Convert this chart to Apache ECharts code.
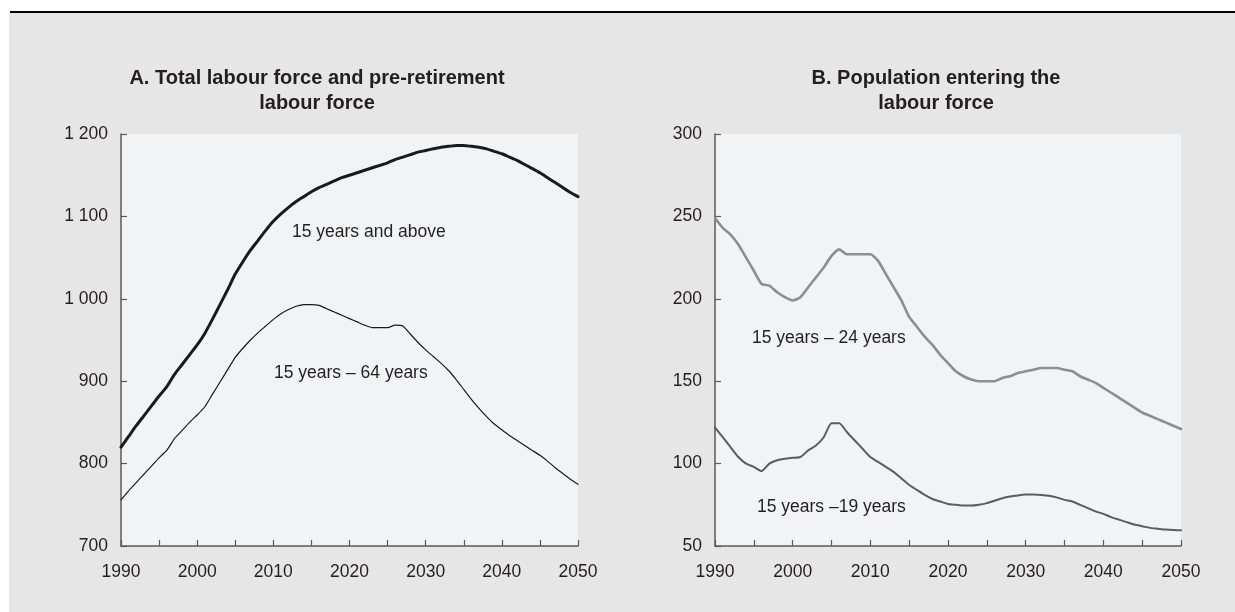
<!DOCTYPE html>
<html>
<head>
<meta charset="utf-8">
<script src="https://cdn.jsdelivr.net/npm/echarts@6/dist/echarts.min.js"></script>
<style>
  html, body { margin: 0; padding: 0; background: #ffffff; }
  #chart { width: 1235px; height: 612px; }
</style>
</head>
<body>
<div id="chart"></div>
<script>
// Years shared by both panels
const years = [
  1990, 1991, 1992, 1993, 1994, 1995, 1996, 1997, 1998, 1999,
  2000, 2001, 2002, 2003, 2004, 2005, 2006, 2007, 2008, 2009,
  2010, 2011, 2012, 2013, 2014, 2015, 2016, 2017, 2018, 2019,
  2020, 2021, 2022, 2023, 2024, 2025, 2026, 2027, 2028, 2029,
  2030, 2031, 2032, 2033, 2034, 2035, 2036, 2037, 2038, 2039,
  2040, 2041, 2042, 2043, 2044, 2045, 2046, 2047, 2048, 2049,
  2050
];

// Panel A: labour force, millions
const labour15plus = [
  820, 833, 846, 858, 870, 882, 893, 908, 920, 932,
  944, 958, 975, 993, 1011, 1030, 1045, 1059, 1071, 1083,
  1094, 1103, 1111, 1118, 1124, 1130, 1135, 1139, 1143, 1147,
  1150, 1153, 1156, 1159, 1162, 1165, 1169, 1172, 1175, 1178,
  1180, 1182, 1184, 1185, 1186, 1186, 1185, 1184, 1182, 1179,
  1176, 1172, 1168, 1163, 1158, 1153, 1147, 1141, 1135, 1129,
  1124
];
const labour15to64 = [
  756, 767, 777, 787, 797, 807, 816, 830, 840, 850,
  859, 869, 884, 899, 914, 929, 940, 950, 959, 967,
  975, 982, 987, 991, 993, 993, 992, 988, 984, 980,
  976, 972, 968, 965, 965, 965, 968, 967, 957, 947,
  938, 930, 922, 913, 902, 890, 878, 867, 857, 848,
  841, 834, 828, 822, 816, 810, 803, 795, 788, 781,
  775
];

// Panel B: population entering the labour force, millions
const entering15to24 = [
  249, 243, 239, 233, 225, 217, 209, 208, 204, 201,
  199, 201, 207, 213, 219, 226, 230, 227, 227, 227,
  227, 223, 215, 207, 199, 189, 183, 177, 172, 166,
  161, 156, 153, 151, 150, 150, 150, 152, 153, 155,
  156, 157, 158, 158, 158, 157, 156, 153, 151, 149,
  146, 143, 140, 137, 134, 131, 129, 127, 125, 123,
  121
];
const entering15to19 = [
  122, 116, 110, 104, 100, 98, 95.5, 100, 102, 103,
  103.5, 104, 108, 111, 116, 124.5, 124.5, 119, 114, 109,
  104, 101, 98, 95, 91, 87, 84, 81, 78.5, 77,
  75.5, 75, 74.5, 74.5, 75, 76, 77.5, 79, 80, 80.7,
  81.2, 81.3, 81, 80.5, 79.5, 78, 77, 75, 73, 71,
  69.5, 67.5, 66, 64.5, 63, 62, 61, 60.5, 60, 59.7,
  59.5
];

// Axis tick labels
const yTicksA = { 700: '700', 800: '800', 900: '900', 1000: '1 000', 1100: '1 100', 1200: '1 200' };
const yTicksB = { 50: '50', 100: '100', 150: '150', 200: '200', 250: '250', 300: '300' };
const xTickLabels = { 1990: '1990', 2000: '2000', 2010: '2010', 2020: '2020', 2030: '2030', 2040: '2040', 2050: '2050' };

// Panel titles and line labels
const titleA = ['A. Total labour force and pre-retirement', 'labour force'];
const titleB = ['B. Population entering the', 'labour force'];
const nameA1 = '15 years and above';
const nameA2 = '15 years \u2013 64 years';
const nameB1 = '15 years \u2013 24 years';
const nameB2 = '15 years \u201319 years';

const FONT = '"Liberation Sans", Arial, Helvetica, sans-serif';
const TEXT = '#231f20';
const AXIS = '#5a5a5a';

const pairs = (ys) => years.map((y, i) => [y, ys[i]]);

function xAxis(gridIndex) {
  return {
    type: 'value', gridIndex, min: 1990, max: 2050, interval: 5,
    axisLine: { show: true, lineStyle: { color: AXIS, width: 1.5 } },
    axisTick: { show: true, inside: true, length: 6, lineStyle: { color: AXIS, width: 1.2 } },
    axisLabel: {
      show: true, margin: 17, color: TEXT, fontFamily: FONT, fontSize: 17.5,
      showMinLabel: true, showMaxLabel: true,
      formatter: (v) => xTickLabels[v] || ''
    },
    splitLine: { show: false }
  };
}
function yAxis(gridIndex, min, max, interval, labels) {
  return {
    type: 'value', gridIndex, min, max, interval,
    axisLine: { show: true, lineStyle: { color: AXIS, width: 1.5 } },
    axisTick: { show: true, inside: true, length: 6, lineStyle: { color: AXIS, width: 1.2 } },
    axisLabel: {
      show: true, margin: 13, color: TEXT, fontFamily: FONT, fontSize: 17.5,
      formatter: (v) => labels[v] || ''
    },
    splitLine: { show: false }
  };
}
function line(name, data, xi, color, width) {
  return {
    name, type: 'line', xAxisIndex: xi, yAxisIndex: xi, data: pairs(data),
    showSymbol: false, symbol: 'none', smooth: 0.2, silent: true,
    lineStyle: { color, width, cap: 'round', join: 'round' }, z: 3
  };
}
function txt(text, x, y, opts) {
  return Object.assign({
    type: 'text', x, y, z: 10, silent: true,
    style: { text, fill: TEXT, font: '17.5px ' + FONT, textAlign: 'left', textVerticalAlign: 'middle' }
  }, opts || {});
}
function title(lines, cx) {
  return lines.map((t, i) => ({
    type: 'text', x: cx, y: 78 + i * 25, z: 10, silent: true,
    style: { text: t, fill: TEXT, font: 'bold 20px ' + FONT, textAlign: 'center', textVerticalAlign: 'middle' }
  }));
}

const chart = echarts.init(document.getElementById('chart'), null, { renderer: 'canvas' });
chart.setOption({
  animation: false,
  backgroundColor: 'transparent',
  grid: [
    { left: 121, top: 134, width: 457, height: 412, show: true, backgroundColor: '#f2f3f5', borderWidth: 0, containLabel: false },
    { left: 715, top: 134, width: 466, height: 412, show: true, backgroundColor: '#f2f3f5', borderWidth: 0, containLabel: false }
  ],
  xAxis: [xAxis(0), xAxis(1)],
  yAxis: [yAxis(0, 700, 1200, 100, yTicksA), yAxis(1, 50, 300, 50, yTicksB)],
  series: [
    line(nameA1, labour15plus, 0, '#1a1a1a', 3),
    line(nameA2, labour15to64, 0, '#1a1a1a', 1.2),
    line(nameB1, entering15to24, 1, '#8e8e8e', 2.6),
    line(nameB2, entering15to19, 1, '#5c5c5c', 2)
  ],
  graphic: [
    { type: 'rect', z: -10, silent: true, shape: { x: 9, y: 13, width: 1226, height: 599 }, style: { fill: '#e6e6e6' } },
    { type: 'line', z: -9, silent: true, shape: { x1: 10, y1: 12, x2: 1235, y2: 12 }, style: { stroke: '#000000', lineWidth: 2 } },
    ...title(titleA, 317),
    ...title(titleB, 936),
    txt(nameA1, 292, 232),
    txt(nameA2, 274, 373),
    txt(nameB1, 752, 338),
    txt(nameB2, 757, 507)
  ]
});
</script>
</body>
</html>
